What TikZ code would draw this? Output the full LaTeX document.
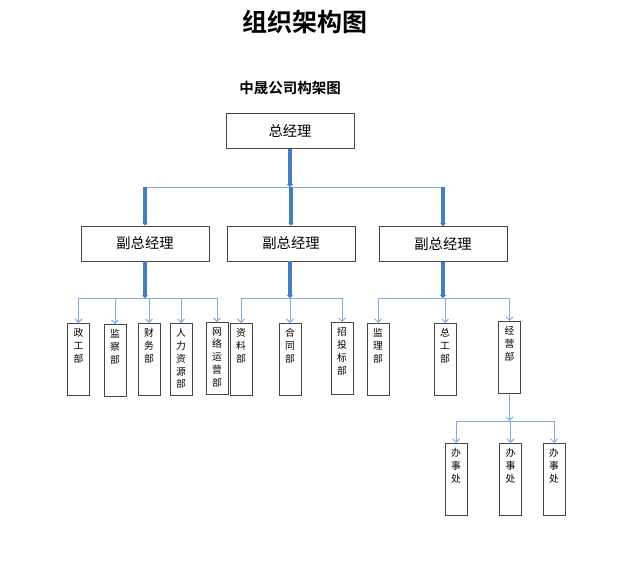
\documentclass[tikz,border=0pt]{standalone}
\usepackage{fontspec}
\usetikzlibrary{arrows.meta}
\newfontfamily\cjk{Noto Sans CJK SC}[BoldFont={Noto Sans CJK SC Bold}]
\definecolor{boxline}{RGB}{70,70,70}
\definecolor{thinblue}{RGB}{125,172,225}
\definecolor{thickblue}{RGB}{70,125,190}
\newcommand\vcol[1]{\parbox[c][72pt][t]{22pt}{\centering\vspace*{5pt}#1}}
\begin{document}
\begin{tikzpicture}[x=1pt,y=-1pt,
  hbox/.style={draw=boxline,line width=0.8pt,rectangle,minimum width=128pt,minimum height=35pt,inner sep=0pt,font=\cjk\fontsize{14.3}{16}\selectfont},
  vbox/.style={draw=boxline,line width=0.8pt,rectangle,anchor=north,inner sep=0pt,font=\cjk\fontsize{9.8}{12.8}\selectfont},
  thick/.style={draw=thickblue,line width=3.6pt,-{Stealth[length=3pt,width=6pt]}},
  thin/.style={draw=thinblue,line width=0.9pt},
  thinarr/.style={thin,-{Straight Barb[length=3.5pt,width=7pt]}},
  title/.style={font=\cjk\bfseries\fontsize{25}{28}\selectfont},
  subtitle/.style={font=\cjk\bfseries\fontsize{14.5}{16}\selectfont}]
\useasboundingbox[fill=white] (0,0) rectangle (620,570);
\node[title] (t) at (305,22) {组织架构图};
\node[subtitle] (st) at (290,88) {中晟公司构架图};
% top
\node[hbox] (zjl) at (290,131) {总经理};
\node[hbox] (f1) at (145,243.5) {副总经理};
\node[hbox] (f2) at (291,243.5) {副总经理};
\node[hbox] (f3) at (443,244) {副总经理};
\coordinate (j0) at (290,187);
\draw[thin] (f1.north |- j0) -- (f3.north |- j0);
\draw[thick] (zjl.south) -- (j0);
\foreach \f in {f1,f2,f3} \draw[thick] (\f.north |- j0) -- (\f.north);
% group 1
\node[vbox] (zg) at (78.5,323) {\vcol{政\\工\\部}};
\node[vbox] (jc) at (115,324) {\vcol{监\\察\\部}};
\node[vbox] (cw) at (149,323) {\vcol{财\\务\\部}};
\node[vbox] (rl) at (181,323) {\vcol{人\\力\\资\\源\\部}};
\node[vbox] (wl) at (217,322) {\vcol{网\\络\\运\\营\\部}};
\coordinate (h1) at (145,298);
\draw[thin] (zg.north |- h1) -- (wl.north |- h1);
\draw[thick] (f1.south) -- (h1);
\foreach \c in {zg,jc,cw,rl,wl} \draw[thinarr] (\c.north |- h1) -- (\c.north);
% group 2
\node[vbox] (zl) at (241,323) {\vcol{资\\料\\部}};
\node[vbox] (ht) at (290,323) {\vcol{合\\同\\部}};
\node[vbox] (ztb) at (342,322) {\vcol{招\\投\\标\\部}};
\coordinate (h2) at (290,298);
\draw[thin] (zl.north |- h2) -- (ztb.north |- h2);
\draw[thick] (f2.south -| h2) -- (h2);
\foreach \c in {zl,ht,ztb} \draw[thinarr] (\c.north |- h2) -- (\c.north);
% group 3
\node[vbox] (jl) at (378,323) {\vcol{监\\理\\部}};
\node[vbox] (zgb) at (445,323) {\vcol{总\\工\\部}};
\node[vbox] (jy) at (509.5,321) {\vcol{经\\营\\部}};
\coordinate (h3) at (443,298);
\draw[thin] (jl.north |- h3) -- (jy.north |- h3);
\draw[thick] (f3.south) -- (h3);
\foreach \c in {jl,zgb,jy} \draw[thinarr] (\c.north |- h3) -- (\c.north);
% group 4
\node[vbox] (b1) at (456,443) {\vcol{办\\事\\处}};
\node[vbox] (b2) at (510.5,443) {\vcol{办\\事\\处}};
\node[vbox] (b3) at (554,443) {\vcol{办\\事\\处}};
\coordinate (h4) at (509.5,421);
\draw[thin] (b1.north |- h4) -- (b3.north |- h4);
\draw[thinarr] (jy.south) -- (h4);
\foreach \c in {b1,b2,b3} \draw[thinarr] (\c.north |- h4) -- (\c.north);
\end{tikzpicture}
\end{document}
